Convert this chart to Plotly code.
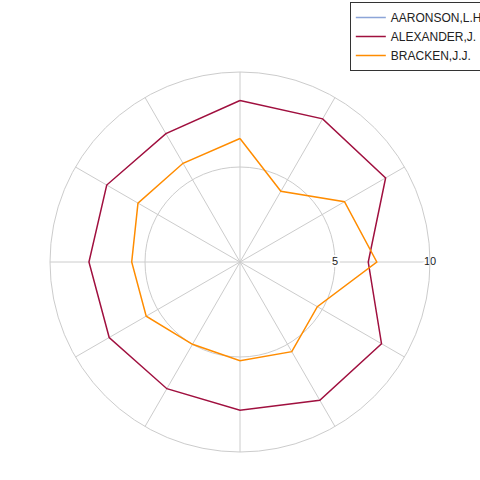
import plotly.graph_objects as go

categories = ["C1", "C2", "C3", "C4", "C5", "C6", "C7", "C8", "C9", "C10", "C11", "C12"]
aaronson = [None] * 12
alexander = [8.5, 8.7, 8.85, 6.75, 8.6, 8.4, 7.8, 7.7, 7.95, 7.95, 8.1, 7.8]
bracken = [6.5, 4.3, 6.35, 7.2, 4.7, 5.45, 5.2, 5.0, 5.7, 5.7, 6.2, 6.0]
radial_ticks = [5, 10]
radial_tick_labels = ["5", "10"]

def closed(v):
    return v + [v[0]]

theta = closed(categories)

fig = go.Figure()
fig.add_trace(go.Scatterpolar(r=closed(aaronson), theta=theta, mode="lines",
                              name="AARONSON,L.H.", line=dict(color="#8ca5d8", width=1.5)))
fig.add_trace(go.Scatterpolar(r=closed(alexander), theta=theta, mode="lines",
                              name="ALEXANDER,J.", line=dict(color="#a0103f", width=1.5)))
fig.add_trace(go.Scatterpolar(r=closed(bracken), theta=theta, mode="lines",
                              name="BRACKEN,J.J.", line=dict(color="#ff8c00", width=1.5)))

# radial tick labels centred on the grid, with a white halo
halo = "2px 0 0 white, -2px 0 0 white, 0 2px 0 white, 0 -2px 0 white, 2px 2px 0 white, -2px -2px 0 white, 2px -2px 0 white, -2px 2px 0 white"
fig.add_trace(go.Scatterpolar(r=radial_ticks, theta=[categories[3]] * len(radial_ticks),
                              mode="text", text=radial_tick_labels, textposition="middle center",
                              textfont=dict(size=11, color="#222", shadow=halo),
                              showlegend=False, hoverinfo="skip"))

fig.update_layout(
    width=480, height=480,
    margin=dict(l=50, r=50, t=72, b=28, autoexpand=False),
    paper_bgcolor="white",
    font=dict(family="Liberation Sans, Arial, sans-serif", size=11, color="#222"),
    polar=dict(
        bgcolor="white",
        domain=dict(x=[0, 1], y=[0, 1]),
        radialaxis=dict(range=[0, 10], tickvals=radial_ticks, angle=0, showline=False,
                        showticklabels=False, gridcolor="#cccccc", ticks=""),
        angularaxis=dict(type="category", rotation=90, direction="clockwise",
                         showticklabels=False, ticks="", gridcolor="#cccccc",
                         linecolor="#cccccc", showline=True),
    ),
    legend=dict(x=0.789, y=1.184, xanchor="left", yanchor="top",
                bordercolor="#333", borderwidth=1, bgcolor="white",
                font=dict(size=12)),
    showlegend=True,
)

fig.write_html("out.html", config={"displayModeBar": False},
               post_script="document.body.style.margin='0';")
